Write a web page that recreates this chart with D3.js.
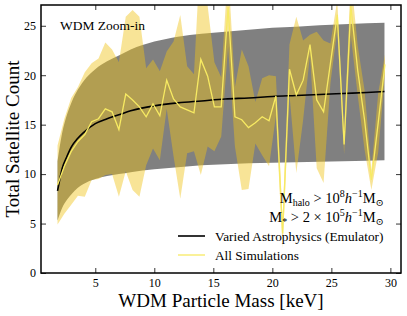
<!DOCTYPE html>
<html>
<head>
<meta charset="utf-8">
<script src="https://cdn.jsdelivr.net/npm/d3@7"></script>
<style>
  body { margin: 0; background: #fff; }
  svg, svg text { font-family: "Liberation Serif", "DejaVu Serif", serif; fill: #000; }
</style>
</head>
<body>
<div id="chart"></div>
<script>
const width = 407;
const height = 316;
const margin = { top: 5, right: 6, bottom: 43, left: 41 };

// simulations (mean and scatter per WDM mass)
const simMass = [1.80, 2.38, 2.96, 3.53, 4.11, 4.69, 5.27, 5.85, 6.42, 7.00,
  7.58, 8.16, 8.74, 9.31, 9.89, 10.47, 11.05, 11.63, 12.20, 12.78,
  13.36, 13.94, 14.52, 15.09, 15.67, 16.25, 16.83, 17.41, 17.98, 18.56,
  19.14, 19.72, 20.30, 20.87, 21.45, 22.03, 22.61, 23.19, 23.76, 24.34,
  24.92, 25.50, 26.08, 26.65, 27.23, 27.81, 28.39, 28.97, 29.54];
const simMean = [8.9, 10.8, 12.3, 13.3, 14.0, 15.3, 15.6, 16.6, 16.3, 14.5,
  18.1, 17.5, 16.8, 15.8, 17.1, 15.9, 19.5, 17.6, 16.8, 16.5,
  16.2, 21.6, 19.9, 16.8, 16.8, 26.9, 15.8, 15.5, 14.7, 15.2,
  15.8, 15.4, 17.9, 4.0, 20.6, 18.0, 19.5, 23.1, 17.5, 16.3,
  21.2, 26.1, 13.0, 27.0, 20.5, 15.5, 9.4, 15.2, 21.1];
const simStd = [4.0, 4.8, 5.4, 5.5, 6.3, 5.9, 6.1, 6.7, 6.3, 6.8,
  7.8, 9.1, 9.1, 4.9, 4.5, 4.5, 2.9, 5.8, 9.3, 4.4,
  3.9, 11.7, 7.1, 4.5, 3.0, 4.0, 3.0, 7.1, 6.2, 2.1,
  3.9, 4.6, 2.0, 1.5, 2.5, 7.9, 4.0, 1.0, 6.9, 7.2,
  2.0, 1.5, 1.0, 3.0, 2.5, 3.0, 1.0, 3.0, 1.0];

// emulator prediction
const emuMass = [1.8, 2.2, 2.6, 3.0, 3.5, 4, 5, 6, 7, 8, 10, 12, 14, 16, 18, 20, 22, 24, 26, 28, 29.5];
const emuMean = [8.3, 10.6, 11.8, 12.8, 13.6, 14.2, 15.1, 15.6, 16.0, 16.4, 16.9, 17.2, 17.4, 17.6, 17.7, 17.85, 17.95, 18.05, 18.15, 18.25, 18.35];
const emuUpper = [11.3, 14.2, 16.0, 17.3, 18.5, 19.4, 20.6, 21.4, 22.0, 22.6, 23.4, 23.9, 24.2, 24.4, 24.6, 24.8, 24.9, 25.05, 25.15, 25.25, 25.3];
const emuLower = [5.3, 6.6, 7.4, 8.0, 8.6, 9.0, 9.5, 9.8, 10.0, 10.2, 10.5, 10.7, 10.9, 11.0, 11.1, 11.15, 11.2, 11.25, 11.3, 11.35, 11.4];

const xTicks = [5, 10, 15, 20, 25, 30];
const yTicks = [0, 5, 10, 15, 20, 25];

const iw = width - margin.left - margin.right;
const ih = height - margin.top - margin.bottom;

const svg = d3.select("#chart").append("svg")
  .attr("width", width)
  .attr("height", height);

const g = svg.append("g")
  .attr("transform", `translate(${margin.left},${margin.top})`);

const x = d3.scaleLinear().domain([0.4, 30.9]).range([0, iw]);
const y = d3.scaleLinear().domain([0, 27.1]).range([ih, 0]);

g.append("clipPath").attr("id", "clip")
  .append("rect").attr("width", iw).attr("height", ih);

const plot = g.append("g").attr("clip-path", "url(#clip)");

const emu = emuMass.map((m, i) => ({ m, mean: emuMean[i], lo: emuLower[i], hi: emuUpper[i] }));
const sims = simMass.map((m, i) => ({ m, mean: simMean[i], sd: simStd[i] }));

// emulator band
plot.append("path")
  .datum(emu)
  .attr("fill", "#808080")
  .attr("d", d3.area()
    .x(d => x(d.m))
    .y0(d => y(d.lo))
    .y1(d => y(d.hi))
    .curve(d3.curveMonotoneX));

// simulation band
plot.append("path")
  .datum(sims)
  .attr("fill", "#f0c419")
  .attr("fill-opacity", 0.45)
  .attr("d", d3.area()
    .x(d => x(d.m))
    .y0(d => y(d.mean - d.sd))
    .y1(d => y(d.mean + d.sd)));

plot.append("path")
  .datum(emu)
  .attr("fill", "none")
  .attr("stroke", "#000")
  .attr("stroke-width", 1.6)
  .attr("d", d3.line()
    .x(d => x(d.m))
    .y(d => y(d.mean))
    .curve(d3.curveMonotoneX));

plot.append("path")
  .datum(sims)
  .attr("fill", "none")
  .attr("stroke", "#f7ea62")
  .attr("stroke-width", 1.3)
  .attr("d", d3.line()
    .x(d => x(d.m))
    .y(d => y(d.mean)));

// axes, ticks pointing inward on all sides
const styleAxis = sel => {
  sel.attr("font-family", null);
  sel.select(".domain").remove();
  sel.selectAll(".tick line").attr("stroke", "#000").attr("stroke-width", 0.8);
  sel.selectAll("text")
    .style("font-size", "12px")
    .attr("fill", "#000");
};

g.append("g")
  .attr("transform", `translate(0,${ih})`)
  .call(d3.axisBottom(x).tickValues(xTicks).tickSize(-5).tickPadding(5))
  .call(styleAxis);
g.append("g")
  .call(d3.axisTop(x).tickValues(xTicks).tickSize(-5).tickFormat(""))
  .call(styleAxis);
g.append("g")
  .call(d3.axisLeft(y).tickValues(yTicks).tickSize(-5).tickPadding(5))
  .call(styleAxis);
g.append("g")
  .attr("transform", `translate(${iw},0)`)
  .call(d3.axisRight(y).tickValues(yTicks).tickSize(-5).tickFormat(""))
  .call(styleAxis);

g.append("rect")
  .attr("width", iw)
  .attr("height", ih)
  .attr("fill", "none")
  .attr("stroke", "#000")
  .attr("stroke-width", 1.5);

// labels
svg.append("text")
  .attr("x", 221)
  .attr("y", 307)
  .attr("text-anchor", "middle")
  .style("font-size", "19px")
  .text("WDM Particle Mass [keV]");

svg.append("text")
  .attr("transform", `translate(19,${margin.top + ih / 2}) rotate(-90)`)
  .attr("text-anchor", "middle")
  .style("font-size", "19px")
  .text("Total Satellite Count");

svg.append("text")
  .attr("x", 60)
  .attr("y", 30)
  .style("font-size", "13.5px")
  .text("WDM Zoom-in");

// mass cut annotation
const note = (yPos, parts) => {
  const t = svg.append("text").attr("x", 384).attr("y", yPos)
    .attr("text-anchor", "end").style("font-size", "14.5px");
  parts.forEach(p => {
    const s = t.append("tspan").attr("dy", p.dy).text(p.s);
    if (p.small) s.style("font-size", "10px");
    if (p.it) s.style("font-style", "italic");
  });
};
note(203, [
  { s: "M", dy: 0 }, { s: "halo", dy: 3, small: true }, { s: " > 10", dy: -3 },
  { s: "8", dy: -6, small: true }, { s: "h", dy: 6, it: true },
  { s: "\u22121", dy: -6, small: true }, { s: "M", dy: 6 }, { s: "\u2299", dy: 3, small: true }
]);
note(222, [
  { s: "M", dy: 0 }, { s: "*", dy: 3, small: true }, { s: " > 2 \u00d7 10", dy: -3 },
  { s: "5", dy: -6, small: true }, { s: "h", dy: 6, it: true },
  { s: "\u22121", dy: -6, small: true }, { s: "M", dy: 6 }, { s: "\u2299", dy: 3, small: true }
]);

// legend
const legendItems = [
  { label: "Varied Astrophysics (Emulator)", color: "#000", w: 1.6 },
  { label: "All Simulations", color: "#f7ea62", w: 1.3 }
];
const legend = svg.append("g").attr("transform", "translate(178,236)");
legendItems.forEach((d, i) => {
  legend.append("line")
    .attr("x1", 0).attr("x2", 27)
    .attr("y1", i * 19).attr("y2", i * 19)
    .attr("stroke", d.color)
    .attr("stroke-width", d.w);
  legend.append("text")
    .attr("x", 37)
    .attr("y", i * 19 + 4.5)
    .style("font-size", "13.3px")
    .text(d.label);
});
</script>
</body>
</html>
